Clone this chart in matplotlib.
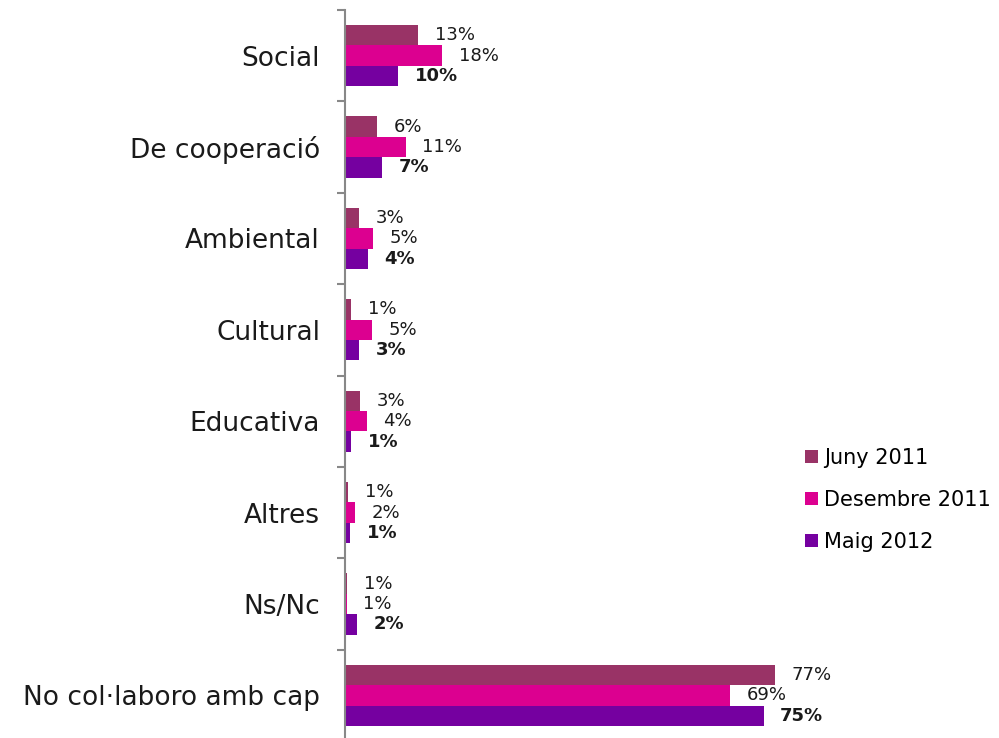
import numpy as np
import matplotlib
matplotlib.use("Agg")
import matplotlib.pyplot as plt
from matplotlib.patches import Patch

# Data (bar lengths in %)
categories = ["Social", "De cooperació", "Ambiental", "Cultural", "Educativa",
              "Altres", "Ns/Nc", "No col·laboro amb cap"]
series_names = ["Juny 2011", "Desembre 2011", "Maig 2012"]
juny_2011 = [13.1, 5.7, 2.5, 1.1, 2.7, 0.6, 0.4, 77.0]
des_2011 = [17.4, 10.9, 5.0, 4.8, 3.9, 1.8, 0.3, 69.0]
maig_2012 = [9.5, 6.6, 4.1, 2.5, 1.1, 0.9, 2.2, 75.0]
labels_juny = ["13%", "6%", "3%", "1%", "3%", "1%", "1%", "77%"]
labels_des = ["18%", "11%", "5%", "5%", "4%", "2%", "1%", "69%"]
labels_maig = ["10%", "7%", "4%", "3%", "1%", "1%", "2%", "75%"]

colors = ["#993366", "#DC0090", "#7500A0"]

plt.rcParams["font.family"] = ["DejaVu Sans"]

fig = plt.figure(figsize=(9.99, 7.38), dpi=100)
ax = fig.add_axes([345 / 999, -3 / 738, 558 / 999, 731 / 738])

y = np.arange(len(categories))
h = 0.223
all_vals = [juny_2011, des_2011, maig_2012]
all_labels = [labels_juny, labels_des, labels_maig]
for i, (vals, labs) in enumerate(zip(all_vals, all_labels)):
    pos = y + (i - 1) * h
    ax.barh(pos, vals, height=h, color=colors[i], edgecolor="none")
    for p, v, t in zip(pos, vals, labs):
        ax.annotate(t, (v, p), xytext=(12, 0), textcoords="offset points",
                    va="center", ha="left", fontsize=13,
                    fontweight="bold" if i == 2 else "normal",
                    color="#1a1a1a")

ax.set_ylim(len(categories) - 0.5, -0.5)
ax.set_xlim(0, 100)
ax.set_yticks(y)
ax.set_yticklabels(categories, fontsize=19, color="#1a1a1a")
ax.tick_params(axis="y", which="major", length=0, pad=18)
ax.set_yticks(np.arange(-0.5, len(categories), 1.0), minor=True)
ax.tick_params(axis="y", which="minor", length=6, width=1.5, color="#888888")
ax.set_xticks([])
for s in ["top", "right", "bottom"]:
    ax.spines[s].set_visible(False)
ax.spines["left"].set_color("#888888")
ax.spines["left"].set_linewidth(1.5)

handles = [Patch(facecolor=c, edgecolor="none") for c in colors]
fig.legend(handles, series_names, loc="center left",
           bbox_to_anchor=(797 / 999, 1 - 500 / 738), frameon=False,
           fontsize=15, handlelength=0.6, handleheight=0.6,
           handletextpad=0.3, labelspacing=1.05, borderaxespad=0)

fig.savefig("out.png", dpi=100)
